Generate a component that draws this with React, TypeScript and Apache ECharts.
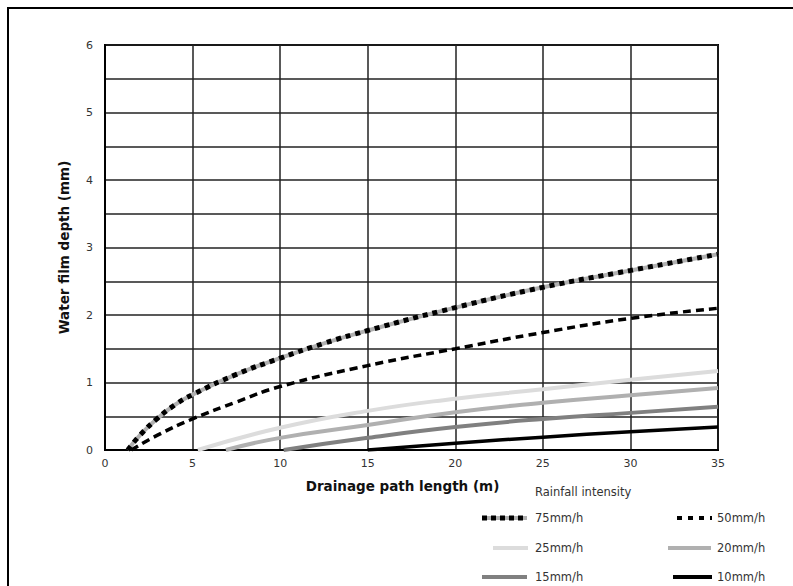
import React, { useEffect, useRef } from "react";
import * as echarts from "echarts";

const xTicks = [0, 5, 10, 15, 20, 25, 30, 35];
const yTicks = [0, 1, 2, 3, 4, 5, 6];

const x75 = [1.3, 2, 3, 4, 5, 7.5, 10, 12.5, 15, 20, 25, 30, 35];
const y75 = [0, 0.22, 0.47, 0.67, 0.82, 1.12, 1.36, 1.58, 1.77, 2.11, 2.41, 2.66, 2.9];

const x50 = [1.5, 3, 5, 7.5, 10, 15, 20, 25, 30, 35];
const y50 = [0, 0.22, 0.46, 0.71, 0.94, 1.25, 1.5, 1.74, 1.95, 2.1];

const x25 = [5.3, 10, 15, 20, 25, 30, 35];
const y25 = [0, 0.33, 0.58, 0.76, 0.9, 1.04, 1.17];

const x20 = [6.9, 10, 15, 20, 25, 30, 35];
const y20 = [0, 0.18, 0.37, 0.56, 0.7, 0.81, 0.92];

const x15 = [10.2, 15, 20, 25, 30, 35];
const y15 = [0, 0.18, 0.34, 0.46, 0.55, 0.64];

const x10 = [15, 20, 25, 30, 35];
const y10 = [0, 0.1, 0.19, 0.27, 0.34];

const legendTitle = "Rainfall intensity";
const names = ["75mm/h", "50mm/h", "25mm/h", "20mm/h", "15mm/h", "10mm/h"];

const pairs = (xs: number[], ys: number[]) => xs.map((x, i) => [x, ys[i]]);

const FONT = "DejaVu Sans";

export default function App() {
  const ref = useRef<HTMLDivElement>(null);
  useEffect(() => {
    if (!ref.current) return;
    const chart = echarts.init(ref.current, null, { renderer: "svg" });
    const lineSeries = (name: string, data: number[][], lineStyle: any, z = 3) => ({
      type: "line",
      name,
      data,
      smooth: true,
      showSymbol: false,
      symbol: "none",
      lineStyle,
      z,
      silent: true,
    });
    const legendText = (text: string, x: number, y: number) => ({
      type: "text",
      x,
      y,
      style: {
        text,
        fill: "#333",
        font: `11.5px "${FONT}"`,
        textVerticalAlign: "middle",
      },
    });
    const lg = (x1: number, x2: number, y: number, stroke: string, lineWidth: number, lineDash?: number[]) => ({
      type: "line",
      shape: { x1, y1: y, x2, y2: y },
      style: { stroke, lineWidth, lineDash },
    });
    const option: any = {
      animation: false,
      backgroundColor: "#fff",
      grid: {
        left: 105,
        right: 75,
        top: 45,
        bottom: 136,
        show: true,
        borderColor: "#000",
        borderWidth: 2,
        backgroundColor: "transparent",
      },
      xAxis: {
        type: "value",
        min: xTicks[0],
        max: xTicks[xTicks.length - 1],
        interval: 5,
        name: "Drainage path length (m)",
        nameLocation: "middle",
        nameGap: 29,
        nameTextStyle: { fontFamily: FONT, fontWeight: "bold", fontSize: 13.5, color: "#111", padding: [0, 18, 0, 0] },
        axisLine: { show: true, lineStyle: { color: "#000", width: 2 } },
        axisTick: { show: false },
        axisLabel: { fontFamily: FONT, fontSize: 11, color: "#333", margin: 8 },
        splitLine: { show: true, lineStyle: { color: "#222", width: 1.5 } },
      },
      yAxis: {
        type: "value",
        min: yTicks[0],
        max: yTicks[yTicks.length - 1],
        interval: 0.5,
        name: "Water film depth (mm)",
        nameLocation: "middle",
        nameGap: 34,
        nameTextStyle: { fontFamily: FONT, fontWeight: "bold", fontSize: 13.5, color: "#111" },
        axisLine: { show: true, lineStyle: { color: "#000", width: 2 } },
        axisTick: { show: false },
        axisLabel: {
          fontFamily: FONT,
          fontSize: 11,
          color: "#333",
          margin: 12,
          formatter: (v: number) => (yTicks.includes(v) ? String(v) : ""),
        },
        splitLine: { show: true, lineStyle: { color: "#222", width: 1.5 } },
      },
      series: [
        lineSeries(names[5], pairs(x10, y10), { color: "#000", width: 3.5 }),
        lineSeries(names[4], pairs(x15, y15), { color: "#808080", width: 4 }),
        lineSeries(names[3], pairs(x20, y20), { color: "#b0b0b0", width: 4 }),
        lineSeries(names[2], pairs(x25, y25), { color: "#dcdcdc", width: 4 }),
        lineSeries(names[1], pairs(x50, y50), { color: "#000", width: 3.5, type: [8, 5] }),
        lineSeries(names[0] + " base", pairs(x75, y75), { color: "#b0b0b0", width: 4 }),
        lineSeries(names[0], pairs(x75, y75), { color: "#000", width: 5, type: [5, 5] }, 4),
      ],
      graphic: [
        {
          type: "rect",
          shape: { x: 8, y: 8, width: 800, height: 600 },
          style: { fill: "none", stroke: "#000", lineWidth: 2 },
          silent: true,
          z: -1,
        },
        legendText(legendTitle, 535, 492),
        lg(482, 527, 518, "#b0b0b0", 4),
        lg(482, 527, 518, "#000", 5, [5, 4]),
        legendText(names[0], 535, 518),
        lg(677, 712, 518, "#000", 4, [5, 6]),
        legendText(names[1], 717, 518),
        lg(493, 528, 548, "#dcdcdc", 4),
        legendText(names[2], 535, 548),
        lg(668, 711, 548, "#b0b0b0", 4),
        legendText(names[3], 717, 548),
        lg(482, 527, 577, "#808080", 4),
        legendText(names[4], 535, 577),
        lg(673, 712, 577, "#000", 4),
        legendText(names[5], 717, 577),
      ],
    };
    chart.setOption(option);
    return () => chart.dispose();
  }, []);
  return <div ref={ref} style={{ position: "fixed", left: 0, top: 0, width: 793, height: 586 }} />;
}
